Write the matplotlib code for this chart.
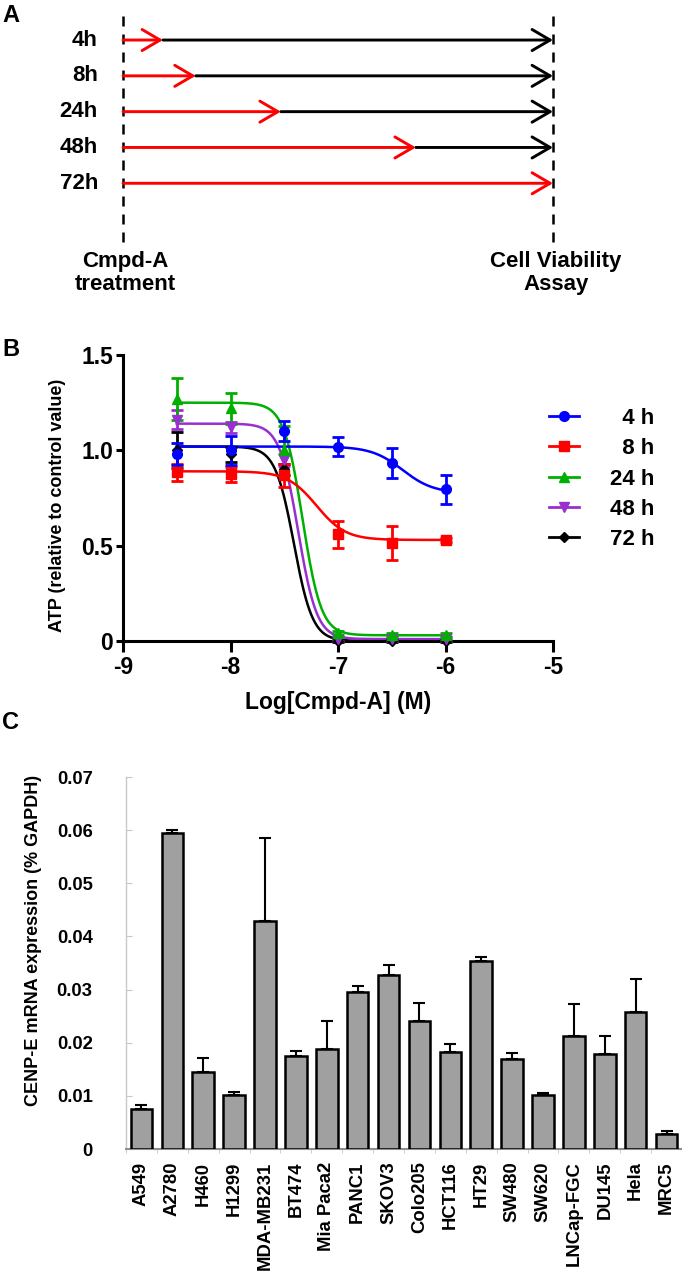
import numpy as np
import matplotlib
matplotlib.use("Agg")
import matplotlib.pyplot as plt
from matplotlib.lines import Line2D

# --- panel A : treatment schedule
sched_labels = ["4h", "8h", "24h", "48h", "72h"]
# end of the red (Cmpd-A) arrow as a fraction of the whole timeline
treat_end = [0.093, 0.169, 0.367, 0.681, 1.0]

# --- panel B : ATP dose response
log_conc = [-8.5, -8.0, -7.5, -7.0, -6.5, -6.0]
series_names = ["  4 h", "  8 h", "24 h", "48 h", "72 h"]
atp_mean = [
    [0.98, 1.00, 1.10, 1.02, 0.935, 0.795],   # 4 h
    [0.885, 0.875, 0.87, 0.56, 0.515, 0.53],  # 8 h
    [1.27, 1.22, 1.00, 0.04, 0.03, 0.03],     # 24 h
    [1.16, 1.12, 0.95, 0.01, 0.01, 0.01],     # 48 h
    [1.00, 0.98, 0.90, 0.00, 0.00, 0.00],     # 72 h
]
atp_err = [
    [0.057, 0.075, 0.053, 0.048, 0.079, 0.075],
    [0.044, 0.040, 0.060, 0.070, 0.088, 0.010],
    [0.110, 0.080, 0.130, 0.010, 0.010, 0.010],
    [0.050, 0.030, 0.030, 0.010, 0.010, 0.010],
    [0.095, 0.040, 0.030, 0.005, 0.005, 0.005],
]
# fitted curves: top, bottom, logIC50, hill slope
fit_params = [
    [1.02, 0.775, -6.40, 3.0],
    [0.89, 0.530, -7.20, 3.2],
    [1.25, 0.030, -7.33, 5.0],
    [1.14, 0.010, -7.37, 5.0],
    [1.02, 0.000, -7.41, 5.0],
]
series_colors = ["#0000ff", "#ff0000", "#00b000", "#9a2fd0", "#000000"]
series_markers = ["o", "s", "^", "v", "D"]

# --- panel C : CENP-E expression
cell_lines = ["A549", "A2780", "H460", "H1299", "MDA-MB231", "BT474", "Mia Paca2",
              "PANC1", "SKOV3", "Colo205", "HCT116", "HT29", "SW480", "SW620",
              "LNCap-FGC", "DU145", "Hela", "MRC5"]
cenpe = [0.0076, 0.0595, 0.0145, 0.0101, 0.0429, 0.0175, 0.0188, 0.0296, 0.0328,
         0.0241, 0.0183, 0.0354, 0.0169, 0.0101, 0.0213, 0.0179, 0.0257, 0.0028]
cenpe_err = [0.0006, 0.0005, 0.0027, 0.0006, 0.0157, 0.0010, 0.0052, 0.0011, 0.0019,
             0.0033, 0.0015, 0.0008, 0.0012, 0.0004, 0.0059, 0.0033, 0.0063, 0.0006]

plt.rcParams["font.family"] = ["Liberation Sans", "DejaVu Sans"]
plt.rcParams["font.weight"] = "bold"

W, H = 682, 1274
fig = plt.figure(figsize=(W / 100, H / 100), dpi=100)


def fx(px):
    return px / W


def fy(py):
    return 1 - py / H


# panel letters
for letter, ypix in [("A", 16), ("B", 349), ("C", 722)]:
    fig.text(fx(2), fy(ypix), letter, fontsize=17, fontweight="bold",
             va="center", ha="left")

# ---------------- A
ax_a = fig.add_axes([fx(123), fy(242), fx(430), (242 - 13) / H])
ax_a.set_xlim(0, 1)
ax_a.set_ylim(5.64, -0.755)
ax_a.axis("off")
for xv in (0, 1):
    ax_a.axvline(xv, color="black", lw=1.8, ls=(0, (4, 3.2)), clip_on=False)
head = "->, head_length=0.65, head_width=0.38"
for i, (lab, f) in enumerate(zip(sched_labels, treat_end)):
    ax_a.annotate("", xy=(f, i), xytext=(0, i),
                  arrowprops=dict(arrowstyle=head, color="#ff0000", lw=2.1,
                                  mutation_scale=20, shrinkA=0, shrinkB=0))
    if f < 1:
        ax_a.annotate("", xy=(1, i), xytext=(f, i),
                      arrowprops=dict(arrowstyle=head, color="black", lw=2.1,
                                      mutation_scale=20, shrinkA=0, shrinkB=0))
    ax_a.annotate(lab, xy=(0, i), xytext=(-25, 0), textcoords="offset pixels",
                  ha="right", va="center", fontsize=16, fontweight="bold")

fig.text(fx(125), fy(273), "Cmpd-A\ntreatment", ha="center", va="center",
         fontsize=16, fontweight="bold", linespacing=1.1)
fig.text(fx(556), fy(273), "Cell Viability\nAssay", ha="center", va="center",
         fontsize=16, fontweight="bold", linespacing=1.1)

# ---------------- B
ax_b = fig.add_axes([fx(123), fy(641), fx(430), (641 - 355) / H])
xs = np.linspace(log_conc[0], log_conc[-1], 300)
for k in [4, 3, 2, 1, 0]:
    top, bot, ic, hill = fit_params[k]
    curve = bot + (top - bot) / (1 + 10 ** ((xs - ic) * hill))
    ax_b.plot(xs, curve, color=series_colors[k], lw=1.8, clip_on=False, zorder=2)
    ax_b.errorbar(log_conc, atp_mean[k], yerr=atp_err[k], fmt=series_markers[k],
                  color=series_colors[k], ms=7 if series_markers[k] != "D" else 5.5,
                  elinewidth=2, capsize=4, capthick=2, clip_on=False, zorder=3)
ax_b.set_xlim(-9, -5)
ax_b.set_ylim(0, 1.5)
xt = [-9, -8, -7, -6, -5]
ax_b.set_xticks(xt, labels=[str(v) for v in xt])
ax_b.set_yticks([0, 0.5, 1.0, 1.5], labels=["0", "0.5", "1.0", "1.5"])
for s in ("top", "right"):
    ax_b.spines[s].set_visible(False)
for s in ("left", "bottom"):
    ax_b.spines[s].set_linewidth(2.2)
ax_b.tick_params(axis="both", width=2.2, labelsize=16.5)
ax_b.tick_params(axis="x", length=8, pad=3)
ax_b.tick_params(axis="y", length=5, pad=2)
ax_b.set_xlabel("Log[Cmpd-A] (M)", fontsize=16.5, fontweight="bold")
ax_b.xaxis.set_label_coords(0.5, -(702 - 641) / (641 - 355))
ax_b.xaxis.label.set_va("center")
ax_b.set_ylabel("ATP (relative to control value)", fontsize=13, fontweight="bold")
ax_b.yaxis.set_label_coords((58 - 123) / 430, (641 - 505) / (641 - 355))
ax_b.yaxis.label.set_va("center")

handles = [Line2D([], [], color=c, marker=m, lw=2, ms=7 if m != "D" else 5.5)
           for c, m in zip(series_colors, series_markers)]
fig.legend(handles, series_names, loc="upper left", bbox_to_anchor=(fx(540), fy(399)),
           frameon=False, fontsize=16, handlelength=1.35, labelspacing=0.42,
           handletextpad=1.4, borderaxespad=0)

# ---------------- C
ax_c = fig.add_axes([fx(126), fy(1149), fx(556), (1149 - 777) / H])
xpos = np.arange(len(cell_lines))
ax_c.bar(xpos, cenpe, width=0.7, color="#a0a0a0", edgecolor="black", lw=1.8,
         yerr=[np.zeros(len(cenpe)), cenpe_err], capsize=4,
         error_kw=dict(elinewidth=1.5, capthick=1.5, ecolor="black"), zorder=3)
ax_c.set_xlim(-0.5, len(cell_lines) - 0.5)
ax_c.set_ylim(0, 0.07)
yt = np.arange(0, 0.0701, 0.01)
ax_c.set_yticks(yt, labels=["0"] + [f"{v:.2f}" for v in yt[1:]])
ax_c.set_xticks(xpos, labels=cell_lines, rotation=90)
ax_c.set_xticks(np.arange(-0.5, len(cell_lines)), minor=True)
for s in ("top", "right"):
    ax_c.spines[s].set_visible(False)
ax_c.spines["left"].set_color("#c8c8c8")
ax_c.spines["left"].set_linewidth(1.0)
ax_c.spines["bottom"].set_color("#909090")
ax_c.spines["bottom"].set_linewidth(1.5)
ax_c.tick_params(axis="y", direction="in", colors="#c8c8c8", labelcolor="black",
                 length=4, labelsize=13.3, pad=24)
ax_c.tick_params(axis="x", which="major", length=0, labelsize=13.3, pad=9)
ax_c.tick_params(axis="x", which="minor", length=3, color="#c8c8c8")
ax_c.set_ylabel("CENP-E mRNA expression (% GAPDH)", fontsize=13, fontweight="bold")
ax_c.yaxis.set_label_coords((33 - 126) / 556, (1149 - 940) / (1149 - 777))
ax_c.yaxis.label.set_va("center")

fig.savefig("out.png", dpi=100)
